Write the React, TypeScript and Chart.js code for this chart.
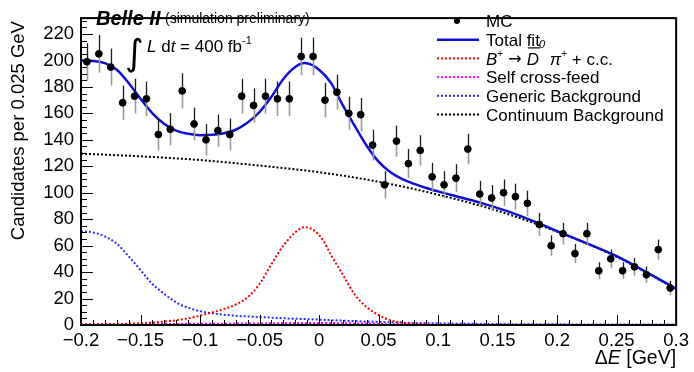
import { useEffect, useRef } from "react";
import { Chart, registerables } from "chart.js";

Chart.register(...registerables);

// ---- histogram: MC candidates per bin ----
const binCenters = [
  -0.195, -0.185, -0.175, -0.165, -0.155, -0.145, -0.135, -0.125, -0.115, -0.105,
  -0.095, -0.085, -0.075, -0.065, -0.055, -0.045, -0.035, -0.025, -0.015, -0.005,
  0.005, 0.015, 0.025, 0.035, 0.045, 0.055, 0.065, 0.075, 0.085, 0.095,
  0.105, 0.115, 0.125, 0.135, 0.145, 0.155, 0.165, 0.175, 0.185, 0.195,
  0.205, 0.215, 0.225, 0.235, 0.245, 0.255, 0.265, 0.275, 0.285, 0.295,
];
const mcCounts = [
  199, 205, 195, 168, 173, 171, 144, 148, 177, 152,
  140, 147, 144, 173, 166, 173, 171, 171, 203, 203,
  170, 176, 160, 159, 136, 106, 139, 122, 132, 112,
  106, 111, 133, 99, 96, 100, 97, 92, 76, 60,
  69, 54, 69, 41, 50, 41, 44, 38, 57, 28,
];

// ---- fit curves (sampled) ----
const totalFitX = [
  -0.2, -0.19, -0.18, -0.17, -0.16, -0.15, -0.14, -0.13, -0.12, -0.11,
  -0.1, -0.09, -0.08, -0.07, -0.06, -0.05, -0.04, -0.03, -0.02, -0.012,
  0.0, 0.01, 0.02, 0.03, 0.04, 0.05, 0.06, 0.07, 0.08, 0.09,
  0.1, 0.12, 0.14, 0.16, 0.18, 0.2, 0.225, 0.25, 0.275, 0.3,
];
const totalFitY = [
  200, 199.5, 198, 193, 183, 171, 160, 152, 147, 144.5,
  143.5, 143.8, 145, 147.6, 153, 161, 172.5, 186, 195, 198,
  193, 183, 166, 150.5, 135.5, 123.5, 115.5, 110.3, 106.7, 103.6,
  101, 96.2, 91.2, 85.5, 78.5, 71, 61.7, 52, 40, 27.4,
];

const signalX = [
  -0.2, -0.17, -0.15, -0.13, -0.11, -0.1, -0.09, -0.08, -0.07, -0.06,
  -0.05, -0.04, -0.03, -0.02, -0.012, -0.005, 0.003, 0.01, 0.02, 0.03,
  0.04, 0.05, 0.06, 0.07, 0.08, 0.09, 0.1, 0.3,
];
const signalY = [
  0.3, 0.7, 1.3, 2.6, 5, 7, 9.5, 12, 15.5, 21,
  31, 46, 60, 70, 74, 72, 64.6, 53, 38, 23,
  13.5, 7.5, 3.6, 1.8, 0.8, 0.3, 0.1, 0,
];

const crossFeedX = [-0.2, -0.1, -0.05, -0.02, 0.0, 0.03, 0.06, 0.1, 0.2, 0.3];
const crossFeedY = [0.6, 0.9, 1.2, 1.5, 1.5, 1.2, 0.6, 0.2, 0.05, 0];

const genericX = [
  -0.2, -0.19, -0.18, -0.17, -0.16, -0.15, -0.14, -0.13, -0.12, -0.11,
  -0.1, -0.09, -0.07, -0.05, -0.03, -0.01, 0.01, 0.03, 0.05, 0.07,
  0.09, 0.11, 0.15, 0.2, 0.3,
];
const genericY = [
  70.8, 70, 67, 61.5, 52, 41.5, 31, 23.5, 17, 13,
  10.5, 8.8, 7, 6, 5.1, 4.4, 3.7, 2.9, 2.3, 1.8,
  1.4, 1.1, 0.7, 0.5, 0.3,
];

const continuumX = [-0.2, -0.15, -0.1, -0.05, 0.0, 0.05, 0.1, 0.15, 0.2, 0.25, 0.3];
const continuumY = [129.5, 127.5, 124.7, 120.5, 115.5, 108.3, 98.5, 86.3, 70.5, 51.5, 27.2];

// ---- axes ----
const xRange = [-0.2, 0.3];
const yRange = [0, 232];
const xMajorStep = 0.05;
const xMinorPerMajor = 5;
const yMajorStep = 20;
const yMinorPerMajor = 4;

const FONT = "'Liberation Sans', Arial, Helvetica, sans-serif";

const pts = (xs: number[], ys: number[]) => xs.map((x, i) => ({ x, y: ys[i] }));

type Run = { t: string; f: string; dy?: number };

function drawRuns(ctx: CanvasRenderingContext2D, x: number, y: number, runs: Run[]) {
  let cx = x;
  const spans: number[] = [];
  for (const r of runs) {
    ctx.font = r.f;
    ctx.fillText(r.t, cx, y + (r.dy || 0));
    spans.push(cx);
    cx += ctx.measureText(r.t).width;
  }
  spans.push(cx);
  return spans;
}

function runsWidth(ctx: CanvasRenderingContext2D, runs: Run[]) {
  let w = 0;
  for (const r of runs) {
    ctx.font = r.f;
    w += ctx.measureText(r.t).width;
  }
  return w;
}

const MC_INDEX = 0;

const errorBars = {
  id: "errorBars",
  beforeDatasetDraw(chart: any, args: any) {
    if (args.index !== MC_INDEX) return;
    const { ctx, scales } = chart;
    const xs = scales.x;
    const ys = scales.y;
    ctx.save();
    mcCounts.forEach((n, i) => {
      const px = Math.round(xs.getPixelForValue(binCenters[i])) + 0.5;
      const err = Math.sqrt(n);
      const pc = ys.getPixelForValue(n);
      const pHi = ys.getPixelForValue(n + err);
      const pLo = ys.getPixelForValue(n - err);
      ctx.lineWidth = 1.3;
      ctx.strokeStyle = "#1a1a1a";
      ctx.beginPath();
      ctx.moveTo(px, pHi);
      ctx.lineTo(px, pc);
      ctx.stroke();
      ctx.lineWidth = 1.6;
      ctx.strokeStyle = "#9a9a9a";
      ctx.beginPath();
      ctx.moveTo(px, pc);
      ctx.lineTo(px, pLo);
      ctx.stroke();
    });
    ctx.restore();
  },
};

const decorations = {
  id: "decorations",
  afterDraw(chart: any) {
    const { ctx, chartArea: a, scales } = chart;
    const xs = scales.x;
    const ys = scales.y;
    ctx.save();

    // inner tick marks
    ctx.strokeStyle = "#000";
    ctx.lineWidth = 1;
    const xMinor = xMajorStep / xMinorPerMajor;
    const nx = Math.round((xRange[1] - xRange[0]) / xMinor);
    for (let i = 0; i <= nx; i++) {
      const v = xRange[0] + i * xMinor;
      const px = Math.round(xs.getPixelForValue(v)) + 0.5;
      const len = i % xMinorPerMajor === 0 ? 10 : 5;
      ctx.beginPath();
      ctx.moveTo(px, a.bottom);
      ctx.lineTo(px, a.bottom - len);
      ctx.stroke();
    }
    const yMinor = yMajorStep / yMinorPerMajor;
    for (let i = 0; i * yMinor <= yRange[1]; i++) {
      const v = yRange[0] + i * yMinor;
      const py = Math.round(ys.getPixelForValue(v)) + 0.5;
      const len = i % yMinorPerMajor === 0 ? 12 : 6;
      ctx.beginPath();
      ctx.moveTo(a.left, py);
      ctx.lineTo(a.left + len, py);
      ctx.stroke();
    }

    // frame
    ctx.lineWidth = 2;
    ctx.strokeRect(a.left, a.top, a.right - a.left, a.bottom - a.top);

    ctx.fillStyle = "#000";
    ctx.textBaseline = "alphabetic";

    // axis titles
    ctx.save();
    ctx.translate(24, a.top + 3);
    ctx.rotate(-Math.PI / 2);
    ctx.textAlign = "right";
    ctx.font = `18.5px ${FONT}`;
    ctx.fillText("Candidates per 0.025 GeV", 0, 0);
    ctx.restore();

    ctx.textAlign = "left";
    const xTitle: Run[] = [
      { t: "\u0394", f: `19.5px ${FONT}` },
      { t: "E", f: `italic 19.5px ${FONT}` },
      { t: " [GeV]", f: `19.5px ${FONT}` },
    ];
    drawRuns(ctx, a.right - runsWidth(ctx, xTitle), 364, xTitle);

    // experiment label
    drawRuns(ctx, 96, 25, [{ t: "Belle II", f: `bold italic 20px ${FONT}` }]);
    drawRuns(ctx, 165, 23, [{ t: "(simulation preliminary)", f: `14px ${FONT}` }]);
    ctx.font = `36px 'DejaVu Sans', ${FONT}`;
    ctx.fillText("\u222B", 125, 65);
    drawRuns(ctx, 147, 52, [
      { t: "L", f: `italic 17px ${FONT}` },
      { t: " d", f: `17px ${FONT}` },
      { t: "t", f: `italic 17px ${FONT}` },
      { t: " = 400 fb", f: `17px ${FONT}` },
      { t: "-1", f: `11px ${FONT}`, dy: -8 },
    ]);

    // legend
    const rows = [21, 39.7, 58.4, 77.1, 95.8, 114.5];
    const lx0 = 437;
    const lx1 = 479;
    const tx = 486;
    const legFont = `17px ${FONT}`;
    // MC marker
    ctx.beginPath();
    ctx.arc(457, rows[0], 3, 0, Math.PI * 2);
    ctx.fill();
    const lineRow = (y: number, color: string, dotted: boolean, w: number) => {
      ctx.save();
      ctx.strokeStyle = color;
      ctx.lineWidth = w;
      ctx.setLineDash(dotted ? [2, 2] : []);
      ctx.beginPath();
      ctx.moveTo(lx0, y);
      ctx.lineTo(lx1, y);
      ctx.stroke();
      ctx.restore();
    };
    lineRow(rows[1], "#1010d0", false, 2.5);
    lineRow(rows[2], "#ff0000", true, 2);
    lineRow(rows[3], "#ff00ff", true, 2);
    lineRow(rows[4], "#2a2aff", true, 2);
    lineRow(rows[5], "#000000", true, 2);

    const base = (i: number) => rows[i] + 6;
    drawRuns(ctx, tx, base(0), [{ t: "MC", f: legFont }]);
    drawRuns(ctx, tx, base(1), [{ t: "Total fit", f: legFont }]);
    const sig = drawRuns(ctx, tx, base(2) + 1, [
      { t: "B", f: `italic 17px ${FONT}` },
      { t: "+", f: `10px ${FONT}`, dy: -8 },
      { t: " \u2192 ", f: `16px 'DejaVu Sans', ${FONT}`, dy: -1 },
      { t: "D", f: `italic 17px ${FONT}` },
      { t: "0", f: `italic 11px ${FONT}`, dy: -17 },
      { t: " \u03C0", f: `italic 17px ${FONT}` },
      { t: "+", f: `10px ${FONT}`, dy: -8 },
      { t: " + c.c.", f: legFont },
    ]);
    // overline on the D
    ctx.lineWidth = 1.2;
    ctx.beginPath();
    ctx.moveTo(sig[3] + 1, base(2) - 16.5);
    ctx.lineTo(sig[4] + 1, base(2) - 16.5);
    ctx.stroke();
    drawRuns(ctx, tx, base(3), [{ t: "Self cross-feed", f: legFont }]);
    drawRuns(ctx, tx, base(4), [{ t: "Generic Background", f: legFont }]);
    drawRuns(ctx, tx, base(5), [{ t: "Continuum Background", f: legFont }]);

    ctx.restore();
  },
};

export default function App() {
  const ref = useRef<HTMLCanvasElement>(null);

  useEffect(() => {
    if (!ref.current) return;
    const dotted = (color: string) => ({
      borderColor: color,
      borderWidth: 2,
      borderDash: [2, 2],
      pointRadius: 0,
      fill: false,
      cubicInterpolationMode: "monotone" as const,
    });
    const chart = new Chart(ref.current, {
      type: "scatter",
      data: {
        datasets: [
          {
            label: "MC",
            data: pts(binCenters, mcCounts),
            backgroundColor: "#000",
            borderColor: "#000",
            pointRadius: 3.4,
            pointHoverRadius: 3.4,
            showLine: false,
            order: 0,
          },
          {
            label: "Total fit",
            type: "line",
            data: pts(totalFitX, totalFitY),
            borderColor: "#1010d0",
            borderWidth: 2.5,
            pointRadius: 0,
            fill: false,
            cubicInterpolationMode: "monotone",
            order: 1,
          },
          { label: "Signal", type: "line", data: pts(signalX, signalY), ...dotted("#ff0000"), order: 2 },
          { label: "Self cross-feed", type: "line", data: pts(crossFeedX, crossFeedY), ...dotted("#ff00ff"), order: 3 },
          { label: "Generic Background", type: "line", data: pts(genericX, genericY), ...dotted("#2a2aff"), order: 4 },
          { label: "Continuum Background", type: "line", data: pts(continuumX, continuumY), ...dotted("#000000"), order: 5 },
        ] as any,
      },
      options: {
        animation: false,
        responsive: false,
        devicePixelRatio: 1,
        layout: { padding: { left: 0, right: 13, top: 6, bottom: 0 } },
        plugins: { legend: { display: false }, tooltip: { enabled: false }, title: { display: false } },
        events: [],
        scales: {
          x: {
            type: "linear",
            min: xRange[0],
            max: xRange[1],
            grid: { display: false, drawTicks: false },
            border: { display: false },
            ticks: {
              stepSize: xMajorStep,
              autoSkip: false,
              maxRotation: 0,
              includeBounds: false,
              padding: 5,
              color: "#000",
              font: { family: FONT, size: 18.5 },
              callback: (v: any) => {
                const r = Math.round(Number(v) * 100) / 100;
                if (r === 0) return "0";
                return (r < 0 ? "\u2212" : "") + Math.abs(r).toString();
              },
            },
            afterFit: (s: any) => {
              s.height = 47;
            },
          },
          y: {
            type: "linear",
            min: yRange[0],
            max: yRange[1],
            grid: { display: false, drawTicks: false },
            border: { display: false },
            ticks: {
              stepSize: yMajorStep,
              includeBounds: false,
              padding: 7,
              color: "#000",
              font: { family: FONT, size: 18.5 },
            },
            afterFit: (s: any) => {
              s.width = 81;
            },
          },
        },
      },
      plugins: [errorBars, decorations],
    });
    return () => chart.destroy();
  }, []);

  return (
    <div style={{ position: "absolute", left: 0, top: 0, width: 694, height: 372, background: "#fff" }}>
      <canvas ref={ref} width={694} height={372} style={{ display: "block" }} />
    </div>
  );
}
